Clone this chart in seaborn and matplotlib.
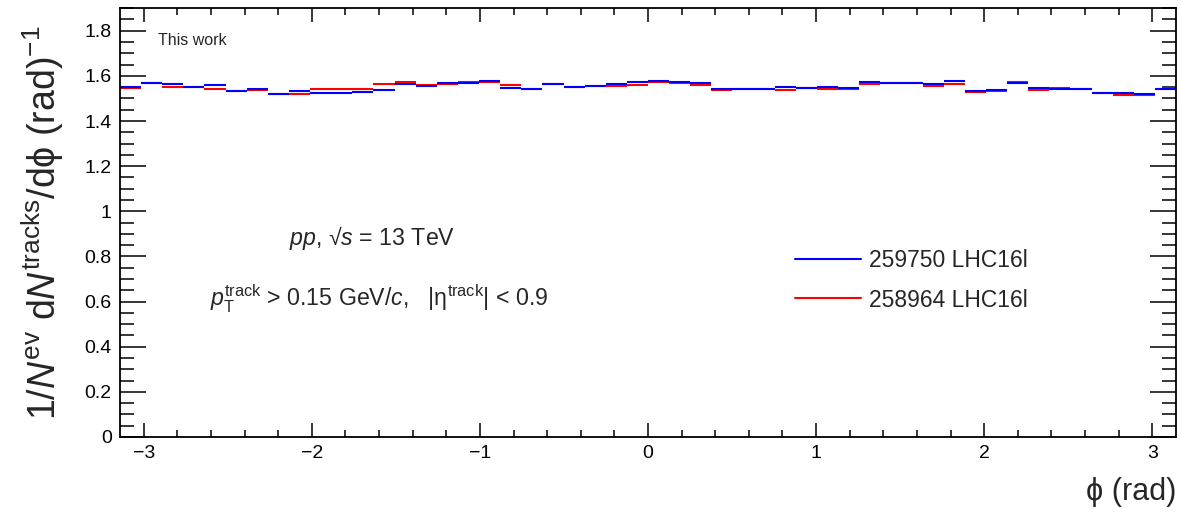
import numpy as np
import matplotlib
matplotlib.use("Agg")
import matplotlib.pyplot as plt
from matplotlib.lines import Line2D
from matplotlib.ticker import MultipleLocator, FuncFormatter
import seaborn as sns

# ---- data ----
n_bins = 50
phi_min, phi_max = -np.pi, np.pi
run_labels = ["259750 LHC16l", "258964 LHC16l"]
run_colors = ["#0000ff", "#ff0000"]

blue_vals = [1.551, 1.570, 1.565, 1.551, 1.559, 1.534, 1.540, 1.520, 1.535, 1.526,
             1.526, 1.528, 1.537, 1.565, 1.554, 1.568, 1.570, 1.578, 1.547, 1.541,
             1.563, 1.553, 1.554, 1.563, 1.575, 1.578, 1.572, 1.568, 1.541, 1.540,
             1.542, 1.551, 1.547, 1.550, 1.547, 1.573, 1.568, 1.570, 1.565, 1.579,
             1.532, 1.537, 1.569, 1.547, 1.544, 1.540, 1.526, 1.523, 1.519, 1.542]
red_vals = [1.545, 1.570, 1.551, 1.551, 1.542, 1.534, 1.537, 1.520, 1.519, 1.540,
            1.542, 1.541, 1.566, 1.572, 1.560, 1.565, 1.573, 1.575, 1.559, 1.544,
            1.563, 1.553, 1.556, 1.556, 1.560, 1.572, 1.569, 1.560, 1.537, 1.540,
            1.540, 1.537, 1.547, 1.544, 1.541, 1.562, 1.568, 1.568, 1.557, 1.562,
            1.529, 1.534, 1.575, 1.537, 1.545, 1.540, 1.523, 1.517, 1.516, 1.540]
stat_err = 0.004

# ---- style ----
sns.set_theme(style="ticks")
plt.rcParams["font.family"] = ["Liberation Sans", "DejaVu Sans"]
plt.rcParams["mathtext.fontset"] = "custom"
plt.rcParams["mathtext.rm"] = "Liberation Sans"
plt.rcParams["mathtext.it"] = "Liberation Sans:italic"
plt.rcParams["mathtext.bf"] = "Liberation Sans:bold"

fig = plt.figure(figsize=(11.81, 5.12), dpi=100)
ax = fig.add_axes([0.1016, 0.1465, 0.8942, 0.8375])

edges = np.linspace(phi_min, phi_max, n_bins + 1)
centers = 0.5 * (edges[:-1] + edges[1:])
half = 0.5 * (edges[1] - edges[0])

for vals, col in [(red_vals, run_colors[1]), (blue_vals, run_colors[0])]:
    ax.errorbar(centers, vals, xerr=half, yerr=stat_err, fmt="none",
                ecolor=col, elinewidth=1.5, capsize=0)

ax.set_xlim(phi_min, phi_max)
ax.set_ylim(0, 1.9)
ax.xaxis.set_major_locator(MultipleLocator(1))
ax.xaxis.set_minor_locator(MultipleLocator(0.2))
ax.yaxis.set_major_locator(MultipleLocator(0.2))
ax.yaxis.set_minor_locator(MultipleLocator(0.05))
ax.xaxis.set_major_formatter(FuncFormatter(
    lambda v, p: ("\u2212%d" % abs(round(v))) if v < -0.01 else "%d" % round(v)))
ax.yaxis.set_major_formatter(FuncFormatter(
    lambda v, p: "0" if abs(v) < 1e-9 else ("1" if abs(v - 1) < 1e-9 else "%.1f" % v)))

ax.tick_params(axis="both", which="both", direction="in", top=True, right=True,
               colors="black", labelsize=14, width=1.1)
ax.tick_params(axis="y", which="major", length=19, pad=6)
ax.tick_params(axis="y", which="minor", length=10)
ax.tick_params(axis="x", which="major", length=10, pad=6)
ax.tick_params(axis="x", which="minor", length=5)
for s in ax.spines.values():
    s.set_color("black")
    s.set_linewidth(1.3)

fig.text(0.036, 0.566,
         r"1/$\mathit{N}^{\mathrm{ev}}$ d$\mathit{N}^{\mathrm{tracks}}$/d" + "\u03d5" + r" (rad)$^{-1}$",
         rotation=90, ha="center", va="center", fontsize=27)
fig.text(0.996, 0.04, "\u03d5 (rad)", ha="right", va="center", fontsize=22)

ax.text(0.036, 0.925, "This work", transform=ax.transAxes, fontsize=11.5, ha="left", va="center")
ax.text(0.2386, 0.464, r"$\mathit{pp}$, " + "\u221a" + r"$\mathit{s}$ = 13 TeV",
        transform=ax.transAxes, fontsize=16.7, ha="center", va="center")
ax.text(0.085, 0.321,
        r"$\mathit{p}_{\mathrm{T}}^{\mathrm{track}}$ > 0.15 GeV/$\mathit{c}$,   |" + "\u03b7" + r"$^{\mathrm{track}}$| < 0.9",
        transform=ax.transAxes, fontsize=16.7, ha="left", va="center")

handles = [Line2D([0], [0], color=c, lw=1.5) for c in run_colors]
ax.legend(handles, run_labels, loc="center left", bbox_to_anchor=(0.62, 0.365),
          frameon=False, fontsize=16.5, handlelength=2.85, handletextpad=0.36,
          labelspacing=0.7)

fig.savefig("out.png", dpi=100)
